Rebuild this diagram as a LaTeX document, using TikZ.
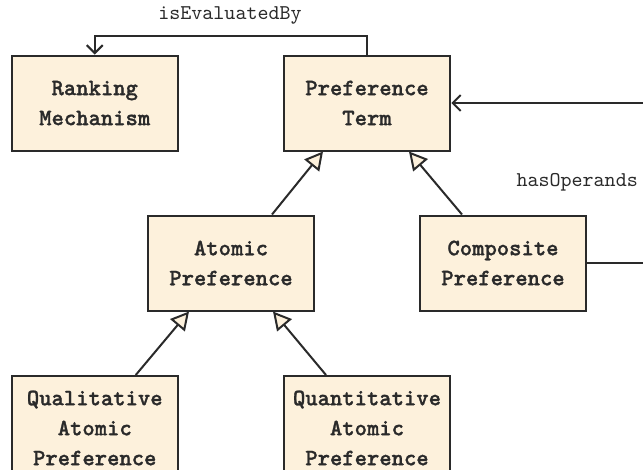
\documentclass[tikz,border=0pt]{standalone}
\usepackage{fontspec}
\setmonofont{lmmono10-regular}[Extension=.otf, BoldFont=lmmonolt10-bold, BoldFeatures={FakeBold=1.2}]
\usetikzlibrary{arrows.meta}
\definecolor{boxfill}{HTML}{FDF1DC}
\definecolor{ink}{HTML}{2A2A2A}
\begin{document}
\begin{tikzpicture}[x=1pt,y=-1pt,
  cls/.style={draw=ink, line width=2pt, fill=boxfill, text=ink,
    minimum width=166.5pt, minimum height=95pt, inner sep=0pt, align=center,
    font=\ttfamily\bfseries\fontsize{23.5}{30}\selectfont},
  gen/.style={draw=ink, line width=2pt, -{Triangle[length=18pt,width=19pt,open,fill=boxfill,line width=2pt]}},
  assoc/.style={draw=ink, line width=2pt, -{Straight Barb[length=8pt,width=16pt,line width=2pt]}},
  lbl/.style={text=ink, inner sep=0pt, font=\ttfamily\fontsize{21}{24}\selectfont}]
\useasboundingbox (0,0) rectangle (643,469);
\node[cls] (rm) at (94.75,103) {Ranking\\Mechanism};
\node[cls] (pt) at (367,103) {Preference\\Term};
\node[cls] (ap) at (231,263) {Atomic\\Preference};
\node[cls] (cp) at (503,263) {Composite\\Preference};
\node[cls, minimum height=104pt] (ql) at (94.75,428) {Qualitative\\Atomic\\Preference};
\node[cls, minimum height=104pt] (qn) at (367,428) {Quantitative\\Atomic\\Preference};
\coordinate (top) at (0,35.7);
\coordinate (right) at (700,0);
\draw[assoc] (pt.north) -- (pt.north |- top) -| (rm.north);
\node[lbl] (iseval) at (230,15) {isEvaluatedBy};
\draw[assoc] (cp.east) -- (cp.east -| right) |- (pt.east);
\node[lbl, anchor=east] (hasop) at (638,182) {hasOperands};
\draw[gen] ([xshift=41pt]ap.north) -- ([xshift=-44pt]pt.south);
\draw[gen] ([xshift=-41pt]cp.north) -- ([xshift=42pt]pt.south);
\draw[gen] ([xshift=41pt]ql.north) -- ([xshift=-42pt]ap.south);
\draw[gen] ([xshift=-41pt]qn.north) -- ([xshift=42pt]ap.south);
\end{tikzpicture}
\end{document}
